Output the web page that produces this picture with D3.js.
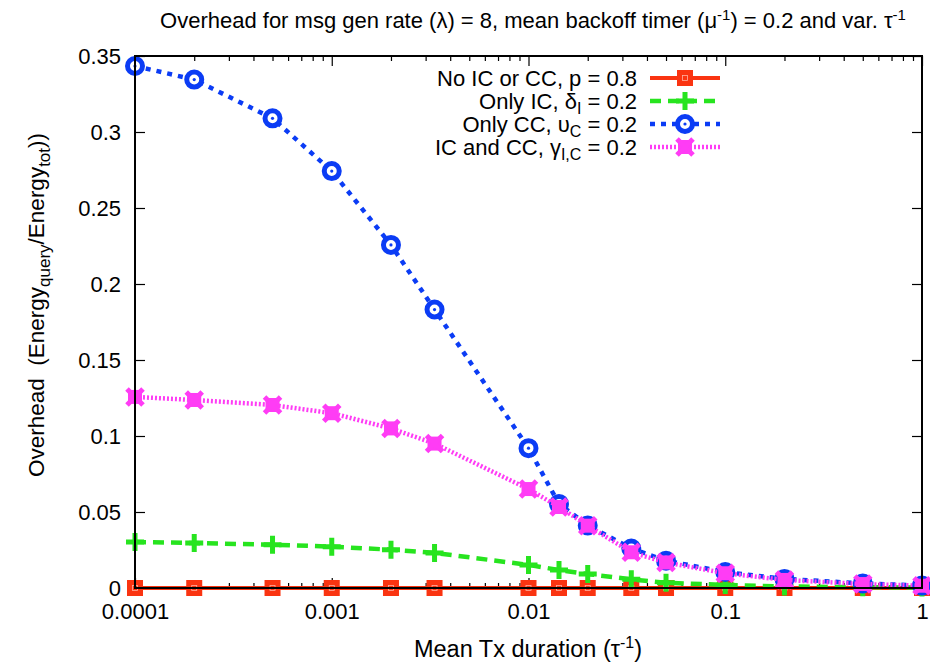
<!DOCTYPE html>
<html>
<head>
<meta charset="utf-8">
<script src="https://cdn.jsdelivr.net/npm/d3@7"></script>
<style>
  body { margin: 0; background: #fff; }
  text { font-family: "Liberation Sans", Arial, sans-serif; fill: #000; white-space: pre; }
</style>
</head>
<body>
<svg id="chart"></svg>
<script>
// mean Tx duration values (x axis, log)
var txDuration = [0.0001, 0.0002, 0.0005, 0.001, 0.002, 0.00333, 0.01, 0.01429, 0.02, 0.0333, 0.05, 0.1, 0.2, 0.5, 1];

// overhead per scheme
var noIcCc   = [0, 0, 0, 0, 0, 0, 0, 0, 0, 0, 0, 0, 0, 0, 0];
var onlyIc   = [0.0303, 0.0296, 0.0285, 0.0272, 0.0252, 0.0231, 0.0152, 0.0118, 0.0092, 0.0057, 0.0034, 0.0020, 0.0010, 0.0005, 0.0003];
var onlyCc   = [0.3434, 0.3345, 0.3090, 0.2743, 0.2257, 0.1832, 0.0920, 0.0553, 0.0412, 0.0260, 0.0180, 0.0105, 0.0060, 0.0030, 0.0016];
var icAndCc  = [0.1257, 0.1237, 0.1204, 0.1150, 0.1050, 0.0950, 0.0651, 0.0533, 0.0410, 0.0235, 0.0168, 0.0097, 0.0053, 0.0026, 0.0015];

var yTicks = [0, 0.05, 0.1, 0.15, 0.2, 0.25, 0.3, 0.35];
var xTicks = [0.0001, 0.001, 0.01, 0.1, 1];

var svgWidth = 930, svgHeight = 662;
var margin = { top: 56, right: 8, bottom: 74, left: 135 };
var width = svgWidth - margin.left - margin.right;
var height = svgHeight - margin.top - margin.bottom;

var svg = d3.select("#chart")
    .attr("width", svgWidth)
    .attr("height", svgHeight);

var g = svg.append("g")
    .attr("transform", "translate(" + margin.left + "," + margin.top + ")");

var x = d3.scaleLog().domain([0.0001, 1]).range([0, width]);
var y = d3.scaleLinear().domain([0, 0.35]).range([height, 0]);

// minor log ticks 2..9 of each decade
var minorTicks = [];
xTicks.slice(0, -1).forEach(function(d) {
    for (var k = 2; k <= 9; k++) minorTicks.push(d * k);
});

function yFmt(d) { return String(+d.toFixed(2)); }
function xFmt(d) { return String(+d.toFixed(4)); }

// bottom axis (inward ticks)
var xAxis = g.append("g")
    .attr("transform", "translate(0," + height + ")")
    .call(d3.axisBottom(x).tickValues(xTicks).tickFormat(xFmt).tickSizeInner(-10).tickSizeOuter(0).tickPadding(12));
g.append("g").attr("transform", "translate(0," + height + ")")
    .call(d3.axisBottom(x).tickValues(minorTicks).tickFormat("").tickSizeInner(-5).tickSizeOuter(0));

// top mirror ticks
g.append("g")
    .call(d3.axisTop(x).tickValues(xTicks).tickFormat("").tickSizeInner(-10).tickSizeOuter(0));
g.append("g")
    .call(d3.axisTop(x).tickValues(minorTicks).tickFormat("").tickSizeInner(-5).tickSizeOuter(0));

// left axis
var yAxis = g.append("g")
    .call(d3.axisLeft(y).tickValues(yTicks).tickFormat(yFmt).tickSizeInner(-10).tickSizeOuter(0).tickPadding(14));
// right mirror
g.append("g").attr("transform", "translate(" + width + ",0)")
    .call(d3.axisRight(y).tickValues(yTicks).tickFormat("").tickSizeInner(-10).tickSizeOuter(0));

g.selectAll(".domain").remove();
g.selectAll(".tick line").attr("stroke", "#000").attr("stroke-width", 1.2);
g.selectAll(".tick text").style("font-size", "22px").attr("fill", "#000");
xAxis.selectAll(".tick text").attr("dy", "0.85em");

var series = [
    { name: "noIcCc", values: noIcCc, color: "#fa3411", dash: null, lineWidth: 4, marker: "square" },
    { name: "onlyIc", values: onlyIc, color: "#27e41f", dash: "11,7", lineWidth: 4.5, marker: "plus" },
    { name: "onlyCc", values: onlyCc, color: "#0b3cf5", dash: "5,6", lineWidth: 4.5, marker: "circle" },
    { name: "icAndCc", values: icAndCc, color: "#ff3cf5", dash: "2,2", lineWidth: 4.5, marker: "cross" }
];

var line = d3.line()
    .x(function(d) { return x(d.x); })
    .y(function(d) { return y(d.y); });

// draws one marker of a given type at (cx, cy)
function drawMarker(sel, type, color, cx, cy) {
    var m = sel.append("g").attr("transform", "translate(" + cx + "," + cy + ")");
    if (type == "square") {
        m.append("rect").attr("x", -8).attr("y", -8).attr("width", 16).attr("height", 16).attr("fill", color);
        m.append("rect").attr("x", -2.5).attr("y", -2.5).attr("width", 5).attr("height", 5)
            .attr("fill", "none").attr("stroke", "#ffb0a0").attr("stroke-width", 0.8);
    } else if (type == "plus") {
        m.append("path").attr("d", "M-9,0H9M0,-9V9").attr("stroke", color).attr("stroke-width", 5).attr("fill", "none");
    } else if (type == "circle") {
        m.append("circle").attr("r", 7.5).attr("fill", "#fff").attr("stroke", color).attr("stroke-width", 5);
        m.append("circle").attr("r", 1.6).attr("fill", color);
    } else if (type == "cross") {
        m.append("rect").attr("x", -7).attr("y", -7).attr("width", 14).attr("height", 14).attr("fill", color);
        m.append("path").attr("d", "M-8,-8L8,8M-8,8L8,-8").attr("stroke", color).attr("stroke-width", 5).attr("fill", "none");
    }
}

series.forEach(function(s) {
    var pts = txDuration.map(function(d, i) { return { x: d, y: s.values[i] }; });
    g.append("path")
        .datum(pts)
        .attr("fill", "none")
        .attr("stroke", s.color)
        .attr("stroke-width", s.lineWidth)
        .attr("stroke-dasharray", s.dash)
        .attr("d", line);
    var mg = g.append("g");
    pts.forEach(function(p) { drawMarker(mg, s.marker, s.color, x(p.x), y(p.y)); });
});

// plot border on top of the data
g.append("rect")
    .attr("width", width).attr("height", height)
    .attr("fill", "none").attr("stroke", "#000").attr("stroke-width", 2);

// legend
var legendLabels = [
    [["No IC or CC, p = 0.8", 0]],
    [["Only IC, \u03B4", 0], ["I", 1], [" = 0.2", 0]],
    [["Only CC, \u03C5", 0], ["C", 1], [" = 0.2", 0]],
    [["IC and CC, \u03B3", 0], ["I,C", 1], [" = 0.2", 0]]
];
var legend = svg.append("g");
series.forEach(function(s, i) {
    var ly = 78 + i * 23;
    var t = legend.append("text")
        .attr("x", 637).attr("y", ly).attr("dy", "0.35em")
        .attr("text-anchor", "end").style("font-size", "22px");
    var shift = 0;
    legendLabels[i].forEach(function(p) {
        var ts = t.append("tspan").text(p[0]);
        if (p[1] == 1) { ts.attr("dy", 5).style("font-size", "16px"); shift = 5; }
        else if (shift) { ts.attr("dy", -shift); shift = 0; }
    });
    legend.append("line")
        .attr("x1", 650).attr("x2", 720).attr("y1", ly).attr("y2", ly)
        .attr("stroke", s.color).attr("stroke-width", s.lineWidth)
        .attr("stroke-dasharray", s.dash);
    drawMarker(legend, s.marker, s.color, 685, ly);
});

// title
var title = svg.append("text")
    .attr("x", 533).attr("y", 28)
    .attr("text-anchor", "middle").style("font-size", "22px");
title.append("tspan").text("Overhead for msg gen rate (\u03BB) = 8, mean backoff timer (\u03BC");
title.append("tspan").text("-1").attr("dy", -8).style("font-size", "15px");
title.append("tspan").text(") = 0.2 and var. \u03C4").attr("dy", 8);
title.append("tspan").text("-1").attr("dy", -8).style("font-size", "15px");

// x label
var xl = svg.append("text")
    .attr("x", 528).attr("y", 657)
    .attr("text-anchor", "middle").style("font-size", "23.5px");
xl.append("tspan").text("Mean Tx duration (\u03C4");
xl.append("tspan").text("-1").attr("dy", -9).style("font-size", "16px");
xl.append("tspan").text(")").attr("dy", 9);

// y label
var yl = svg.append("text")
    .attr("transform", "translate(44,305) rotate(-90)")
    .attr("text-anchor", "middle").style("font-size", "22.5px");
yl.append("tspan").text("Overhead  (Energy");
yl.append("tspan").text("query").attr("dy", 6).style("font-size", "17px");
yl.append("tspan").text("/Energy").attr("dy", -6);
yl.append("tspan").text("tot").attr("dy", 6).style("font-size", "17px");
yl.append("tspan").text("))").attr("dy", -6);
</script>
</body>
</html>
